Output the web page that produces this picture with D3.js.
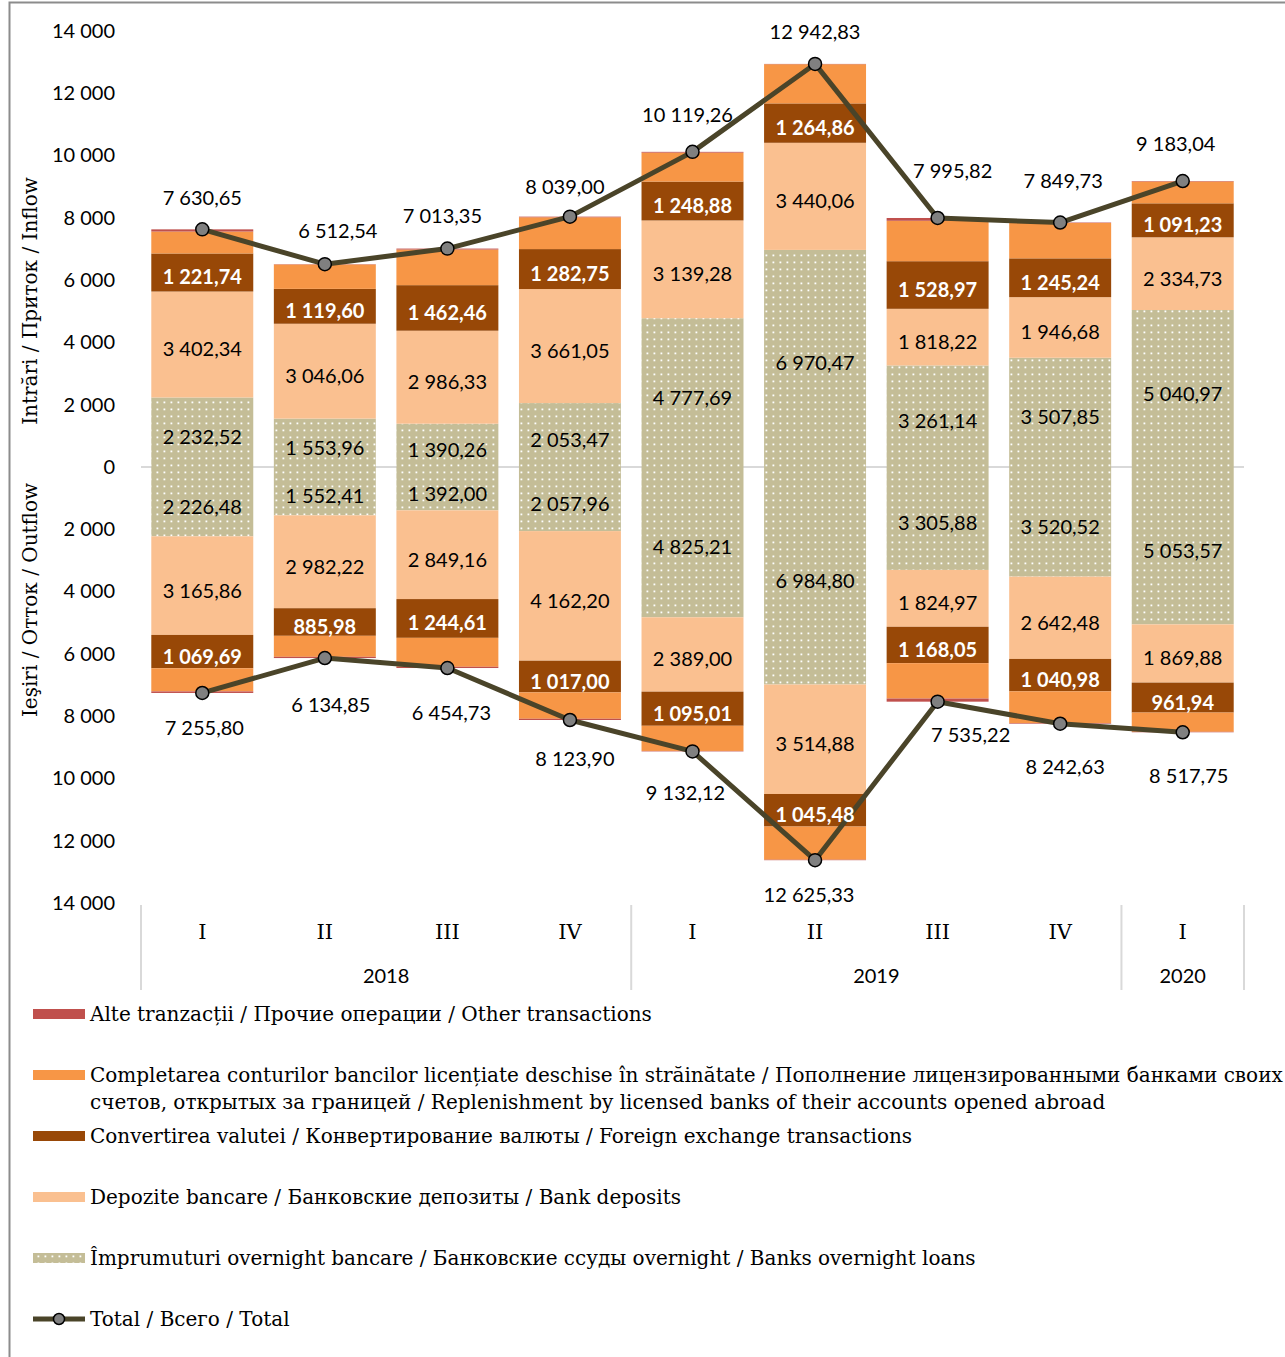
<!DOCTYPE html>
<html>
<head>
<meta charset="utf-8">
<script src="https://cdn.jsdelivr.net/npm/d3@7"></script>
<style>
  html, body { margin: 0; padding: 0; background: #fff; }
  svg { display: block; }
</style>
</head>
<body>
<div id="chart"></div>
<script>
// Quarters and the year each one belongs to
const quarters = ["I", "II", "III", "IV", "I", "II", "III", "IV", "I"];
const quarterYears = ["2018", "2018", "2018", "2018", "2019", "2019", "2019", "2019", "2020"];

// Inflows, mil. USD
const inOvernight = [2232.52, 1553.96, 1390.26, 2053.47, 4777.69, 6970.47, 3261.14, 3507.85, 5040.97];
const inDeposits  = [3402.34, 3046.06, 2986.33, 3661.05, 3139.28, 3440.06, 1818.22, 1946.68, 2334.73];
const inFx        = [1221.74, 1119.60, 1462.46, 1282.75, 1248.88, 1264.86, 1528.97, 1245.24, 1091.23];
const inReplenish = [704.05, 782.92, 1144.30, 1021.73, 928.41, 1257.44, 1297.49, 1134.96, 701.11];
const inOther     = [70, 10, 30, 20, 25, 10, 90, 15, 15];
const inTotal     = [7630.65, 6512.54, 7013.35, 8039.00, 10119.26, 12942.83, 7995.82, 7849.73, 9183.04];

// Outflows, mil. USD
const outOvernight = [2226.48, 1552.41, 1392.00, 2057.96, 4825.21, 6984.80, 3305.88, 3520.52, 5053.57];
const outDeposits  = [3165.86, 2982.22, 2849.16, 4162.20, 2389.00, 3514.88, 1824.97, 2642.48, 1869.88];
const outFx        = [1069.69, 885.98, 1244.61, 1017.00, 1095.01, 1045.48, 1168.05, 1040.98, 961.94];
const outReplenish = [743.77, 674.24, 928.96, 846.74, 807.90, 1065.17, 1136.32, 1018.65, 617.36];
const outOther     = [50, 40, 40, 40, 15, 15, 100, 20, 15];
const outTotal     = [7255.80, 6134.85, 6454.73, 8123.90, 9132.12, 12625.33, 7535.22, 8242.63, 8517.75];

// Axis ticks
const yTicks = [-14000, -12000, -10000, -8000, -6000, -4000, -2000, 0, 2000, 4000, 6000, 8000, 10000, 12000, 14000];

// Series order, from the zero line outwards
const seriesKeys = ["overnight", "deposits", "fx", "replenish", "other"];
const seriesColors = {
  overnight: "url(#dots)",
  deposits: "#fac090",
  fx: "#984807",
  replenish: "#f79646",
  other: "#c0504d"
};

const legendItems = [
  { key: "other", lines: ["Alte tranzacții / Прочие операции / Other transactions"] },
  { key: "replenish", lines: ["Completarea conturilor bancilor licențiate deschise în străinătate / Пополнение лицензированными банками своих",
                              "счетов, открытых за границей / Replenishment by licensed banks of their accounts opened abroad"] },
  { key: "fx", lines: ["Convertirea valutei / Конвертирование валюты / Foreign exchange transactions"] },
  { key: "deposits", lines: ["Depozite bancare / Банковские депозиты / Bank deposits"] },
  { key: "overnight", lines: ["Împrumuturi overnight bancare / Банковские ссуды overnight / Banks overnight loans"] },
  { key: "total", lines: ["Total / Всего / Total"] }
];

// Small nudges for the total labels so they clear the line
const inLabelNudge  = [[0, 2], [13, 0], [-5, 0], [-5, 3], [-5, -4], [0, 1], [15, -14], [3, -9], [-7, -4]];
const outLabelNudge = [[2, -4], [6, 8], [4, 6], [5, 0], [-7, 3], [-6, -4], [33, -6], [5, 4], [6, 5]];

const W = 1285, H = 1357;
const SANS = "Lato, 'Noto Sans', sans-serif";
const SERIF = "'DejaVu Serif', 'Liberation Serif', serif";

const loc = d3.formatLocale({ decimal: ",", thousands: " ", grouping: [3], currency: ["", ""] });
const fmtVal = loc.format(",.2f");
const fmtTick = loc.format(",.0f");

const svg = d3.select("#chart").append("svg").attr("width", W).attr("height", H);

// Dotted fill used for overnight loans
const defs = svg.append("defs");
const pat = defs.append("pattern").attr("id", "dots")
  .attr("patternUnits", "userSpaceOnUse").attr("width", 7).attr("height", 7);
pat.append("rect").attr("width", 7).attr("height", 7).attr("fill", "#c4bd97");
pat.append("rect").attr("x", 2.5).attr("y", 2.5).attr("width", 1.8).attr("height", 1.8).attr("fill", "#fff");

// Outer frame
svg.append("path").attr("d", `M9.5,${H} V2.5 H${W}`)
  .attr("fill", "none").attr("stroke", "#8c8c8c").attr("stroke-width", 2);

const x = d3.scaleBand().domain(d3.range(quarters.length)).range([141, 1244])
  .paddingInner(0.168).paddingOuter(0.084);
const y = d3.scaleLinear().domain([-14000, 14000]).range([903, 31]);

// Y axis labels
const yAxis = d3.axisLeft(y).tickValues(yTicks).tickSize(0).tickPadding(0)
  .tickFormat(d => fmtTick(Math.abs(d)));
const gy = svg.append("g").attr("transform", "translate(115,0)").call(yAxis);
gy.select(".domain").remove();
gy.selectAll("text").attr("font-family", SANS).attr("font-size", 20).attr("fill", "#000");

// Axis titles
svg.append("text").attr("transform", "translate(30,301) rotate(-90)")
  .attr("text-anchor", "middle").attr("dominant-baseline", "central")
  .attr("font-family", SERIF).attr("font-size", 20).text("Intrări / Приток / Inflow");
svg.append("text").attr("transform", "translate(30,600) rotate(-90)")
  .attr("text-anchor", "middle").attr("dominant-baseline", "central")
  .attr("font-family", SERIF).attr("font-size", 20).text("Ieşiri / Отток / Outflow");

// Zero line
svg.append("line").attr("x1", 141).attr("x2", 1244).attr("y1", y(0)).attr("y2", y(0))
  .attr("stroke", "#d9d9d9").attr("stroke-width", 2);

// Stacked bars
const rowsIn = quarters.map((q, i) => ({
  overnight: inOvernight[i], deposits: inDeposits[i], fx: inFx[i], replenish: inReplenish[i], other: inOther[i]
}));
const rowsOut = quarters.map((q, i) => ({
  overnight: -outOvernight[i], deposits: -outDeposits[i], fx: -outFx[i], replenish: -outReplenish[i], other: -outOther[i]
}));
const stack = d3.stack().keys(seriesKeys).offset(d3.stackOffsetDiverging);
const stackedIn = stack(rowsIn);
const stackedOut = stack(rowsOut);

const gBars = svg.append("g");
[stackedIn, stackedOut].forEach(st => {
  st.forEach(layer => {
    gBars.selectAll(null).data(layer).join("rect")
      .attr("x", (d, i) => x(i))
      .attr("width", x.bandwidth())
      .attr("y", d => y(Math.max(d[0], d[1])))
      .attr("height", d => Math.abs(y(d[0]) - y(d[1])))
      .attr("fill", seriesColors[layer.key]);
  });
});

// Total lines with markers
const line = d3.line().x((d, i) => x(i) + x.bandwidth() / 2).y(d => y(d));
const gLine = svg.append("g");
[inTotal, outTotal.map(v => -v)].forEach(vals => {
  gLine.append("path").attr("d", line(vals)).attr("fill", "none")
    .attr("stroke", "#4a4429").attr("stroke-width", 5).attr("stroke-linejoin", "round");
  gLine.selectAll(null).data(vals).join("circle")
    .attr("cx", (d, i) => x(i) + x.bandwidth() / 2).attr("cy", d => y(d)).attr("r", 6.5)
    .attr("fill", "#808080").attr("stroke", "#000").attr("stroke-width", 1.5);
});

// Segment value labels
const gLab = svg.append("g").attr("font-family", SANS).attr("font-size", 20).attr("text-anchor", "middle");
[stackedIn, stackedOut].forEach(st => {
  st.filter(l => ["overnight", "deposits", "fx"].includes(l.key)).forEach(layer => {
    gLab.selectAll(null).data(layer).join("text")
      .attr("x", (d, i) => x(i) + x.bandwidth() / 2)
      .attr("y", d => y((d[0] + d[1]) / 2) + 4)
      .attr("dominant-baseline", "central")
      .attr("fill", layer.key === "fx" ? "#fff" : "#000")
      .attr("font-weight", layer.key === "fx" ? 700 : 400)
      .text(d => fmtVal(Math.abs(d[1] - d[0])));
  });
});

// Total value labels
gLab.selectAll(null).data(inTotal).join("text")
  .attr("x", (d, i) => x(i) + x.bandwidth() / 2 + inLabelNudge[i][0])
  .attr("y", (d, i) => y(d) - 34 + inLabelNudge[i][1])
  .attr("dominant-baseline", "central").attr("fill", "#000")
  .text(d => fmtVal(d));
gLab.selectAll(null).data(outTotal).join("text")
  .attr("x", (d, i) => x(i) + x.bandwidth() / 2 + outLabelNudge[i][0])
  .attr("y", (d, i) => y(-d) + 38 + outLabelNudge[i][1])
  .attr("dominant-baseline", "central").attr("fill", "#000")
  .text(d => fmtVal(d));

// Category axis: quarters and year groups
const gX = svg.append("g");
gX.selectAll(null).data(quarters).join("text")
  .attr("x", (d, i) => x(i) + x.bandwidth() / 2).attr("y", 932)
  .attr("text-anchor", "middle").attr("dominant-baseline", "central")
  .attr("font-family", SERIF).attr("font-size", 21).text(d => d);

const yearGroups = d3.groups(quarters.map((q, i) => ({ i, year: quarterYears[i] })), d => d.year);
const step = x.step();
const x0 = x.range()[0];
const seps = [x0];
yearGroups.forEach(([year, items]) => {
  const first = items[0].i, last = items[items.length - 1].i;
  const left = x0 + first * step, right = x0 + (last + 1) * step;
  seps.push(right);
  gX.append("text").attr("x", (left + right) / 2).attr("y", 975)
    .attr("text-anchor", "middle").attr("dominant-baseline", "central")
    .attr("font-family", SANS).attr("font-size", 20).text(year);
});
gX.selectAll(null).data(seps).join("line")
  .attr("x1", d => d).attr("x2", d => d).attr("y1", 905).attr("y2", 990)
  .attr("stroke", "#d9d9d9").attr("stroke-width", 2);

// Legend
const legendRowY = [1014, 1075, 1136, 1197, 1258, 1319];
const gLeg = svg.append("g");
legendItems.forEach((item, k) => {
  const cy = legendRowY[k];
  if (item.key === "total") {
    gLeg.append("line").attr("x1", 33).attr("x2", 85).attr("y1", cy).attr("y2", cy)
      .attr("stroke", "#4a4429").attr("stroke-width", 5);
    gLeg.append("circle").attr("cx", 59).attr("cy", cy).attr("r", 5.5)
      .attr("fill", "#808080").attr("stroke", "#000").attr("stroke-width", 1.5);
  } else {
    gLeg.append("rect").attr("x", 33).attr("y", cy - 5).attr("width", 52).attr("height", 10)
      .attr("fill", seriesColors[item.key]);
  }
  item.lines.forEach((t, j) => {
    gLeg.append("text").attr("x", 90).attr("y", cy + j * 27)
      .attr("dominant-baseline", "central")
      .attr("font-family", SERIF).attr("font-size", 20).attr("fill", "#000").text(t);
  });
});
</script>
</body>
</html>
